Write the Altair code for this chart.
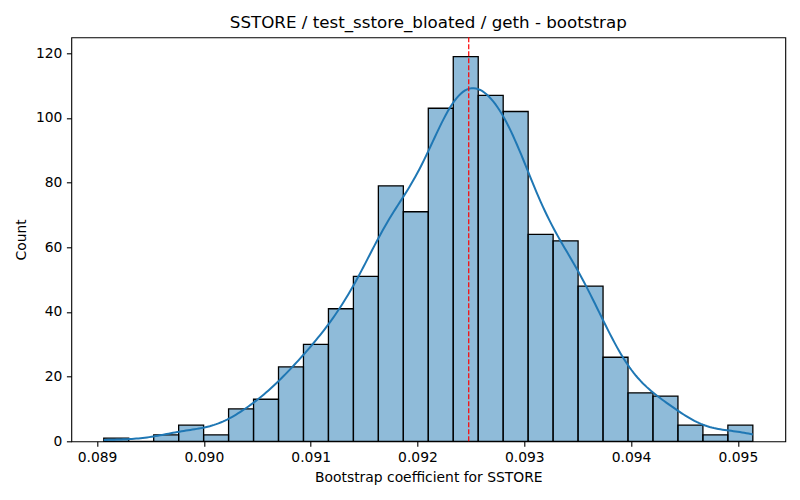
import numpy as np
import pandas as pd
import altair as alt

# histogram of the bootstrap coefficients (26 bins)
bin_lo = 0.0890626
bin_hi = 0.0951402
counts = [1, 0, 2, 5, 2, 10, 13, 23, 30, 41, 51, 79, 71,
          103, 119, 107, 102, 64, 62, 48, 26, 15, 14, 5, 2, 5]
mean_value = 0.09248
kde_bandwidth = 0.000228

title = "SSTORE / test_sstore_bloated / geth - bootstrap"
x_title = "Bootstrap coefficient for SSTORE"
y_title = "Count"
x_ticks = [0.089, 0.090, 0.091, 0.092, 0.093, 0.094, 0.095]
y_ticks = [0, 20, 40, 60, 80, 100, 120]

edges = np.linspace(bin_lo, bin_hi, len(counts) + 1)
bin_width = edges[1] - edges[0]
n_total = sum(counts)

bars_df = pd.DataFrame({
    "bin_start": edges[:-1],
    "bin_end": edges[1:],
    "count": counts,
    "base": 0,
})
# samples placed at bin centres, used for the kde layer
samples_df = pd.DataFrame({
    "value": np.repeat((edges[:-1] + edges[1:]) / 2, counts)
})
mean_df = pd.DataFrame({"mean": [mean_value]})

x_scale = alt.Scale(domain=[0.0887587, 0.0954441], nice=False, zero=False,
                    padding=0)
y_scale = alt.Scale(domain=[0, 124.95], nice=False, padding=0)

x_axis = alt.Axis(values=x_ticks, format=".3f", title=x_title,
                  titleY=40.6, titleBaseline="alphabetic")
y_axis = alt.Axis(values=y_ticks, title=y_title,
                  titleX=-50, titleY=202, titleAlign="center",
                  titleBaseline="middle", titleAngle=-90)

bars = alt.Chart(bars_df).mark_rect(
    color="#1f77b4", fillOpacity=0.5, stroke="black", strokeWidth=1.3
).encode(
    x=alt.X("bin_start:Q", scale=x_scale, axis=x_axis),
    x2="bin_end:Q",
    y=alt.Y("count:Q", scale=y_scale, axis=y_axis),
    y2="base:Q",
)

kde = alt.Chart(samples_df).transform_density(
    "value", bandwidth=kde_bandwidth, extent=[bin_lo, bin_hi], steps=300,
    as_=["value", "density"]
).transform_calculate(
    kde_count=f"datum.density * {n_total} * {bin_width}"
).mark_line(color="#1f77b4", strokeWidth=2).encode(
    x=alt.X("value:Q", scale=x_scale),
    y=alt.Y("kde_count:Q", scale=y_scale),
)

mean_rule = alt.Chart(mean_df).mark_rule(
    color="red", strokeWidth=1.2, strokeDash=[5, 2]
).encode(x=alt.X("mean:Q", scale=x_scale))

chart = alt.layer(bars, kde, mean_rule).properties(
    width=714,
    height=404,
    autosize=alt.AutoSizeParams(type="none"),
    padding={"left": 63.3, "top": 29.3, "right": 5, "bottom": 46},
    title=alt.TitleParams(title, font="DejaVu Sans", fontSize=16.7,
                          fontWeight="normal", color="black",
                          anchor="middle", offset=5),
).configure_view(
    stroke="black", strokeWidth=1.1
).configure_axis(
    grid=False,
    domain=False,
    labelFont="DejaVu Sans", labelFontSize=13.9, labelColor="black",
    labelPadding=4.5,
    titleFont="DejaVu Sans", titleFontSize=13.9, titleColor="black",
    titleFontWeight="normal",
    tickColor="black", tickSize=4.9, tickWidth=1.1,
)

chart.save("out.html", embed_options={"renderer": "svg", "actions": False})
